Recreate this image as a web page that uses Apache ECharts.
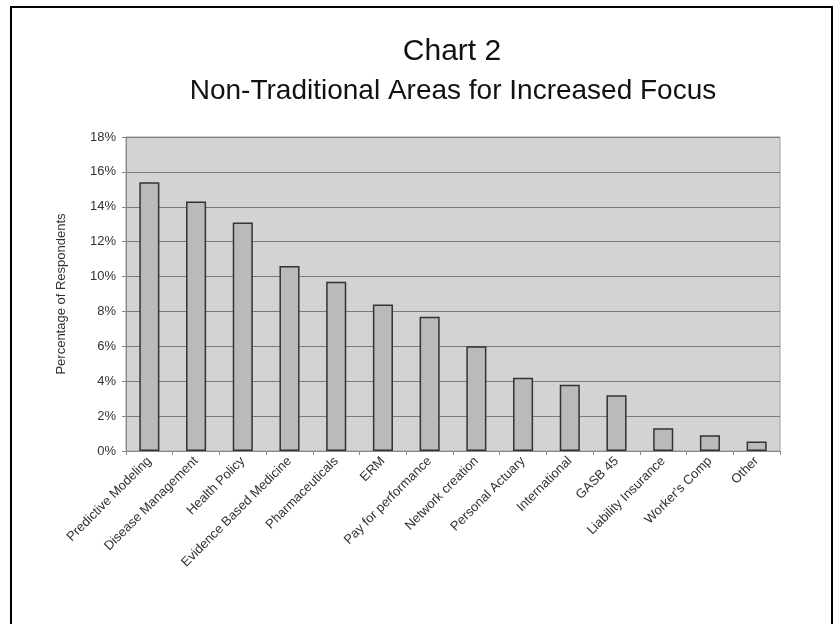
<!DOCTYPE html>
<html>
<head>
<meta charset="utf-8">
<script src="https://cdn.jsdelivr.net/npm/echarts@6/dist/echarts.min.js"></script>
<style>
html, body { margin: 0; padding: 0; background: #fff; }
#main { width: 835px; height: 624px; }
</style>
</head>
<body>
<div id="main"></div>
<script>
var categories = ['Predictive Modeling', 'Disease Management', 'Health Policy', 'Evidence Based Medicine',
	'Pharmaceuticals', 'ERM', 'Pay for performance', 'Network creation', 'Personal Actuary',
	'International', 'GASB 45', 'Liability Insurance', "Worker's Comp", 'Other'];
var percents = [15.4, 14.3, 13.1, 10.6, 9.7, 8.4, 7.7, 6.0, 4.2, 3.8, 3.2, 1.3, 0.9, 0.55];
var yTicks = [0, 2, 4, 6, 8, 10, 12, 14, 16, 18];

var chart = echarts.init(document.getElementById('main'));

var option = {
	backgroundColor: '#fff',
	animation: false,
	title: [
		{
			text: 'Chart 2',
			left: 447, top: 32, textAlign: 'center',
			textStyle: {fontFamily: 'Liberation Sans', fontSize: 30, fontWeight: 'normal', color: '#111'}
		},
		{
			text: 'Non-Traditional Areas for Increased Focus',
			left: 448, top: 72, textAlign: 'center',
			textStyle: {fontFamily: 'Liberation Sans', fontSize: 28, fontWeight: 'normal', color: '#111'}
		}
	],
	graphic: [{
		type: 'polyline',
		shape: {points: [[11, 630], [11, 7], [832, 7], [832, 630]]},
		style: {stroke: '#000', lineWidth: 2, fill: null}
	}],
	grid: {
		left: 126, right: 55, top: 137, bottom: 173,
		show: true, backgroundColor: '#d3d3d3', borderColor: '#a0a0a0', borderWidth: 1
	},
	xAxis: {
		type: 'category',
		data: categories,
		axisLine: {lineStyle: {color: '#888'}},
		axisTick: {show: true, length: 4, lineStyle: {color: '#888'}},
		axisLabel: {
			rotate: 45, interval: 0, margin: 8,
			fontFamily: 'Liberation Sans', fontSize: 13, color: '#333'
		}
	},
	yAxis: {
		type: 'value',
		min: 0, max: 18, interval: 2,
		name: 'Percentage of Respondents',
		nameLocation: 'middle', nameGap: 58,
		nameTextStyle: {fontFamily: 'Liberation Sans', fontSize: 13, color: '#333'},
		axisLine: {show: true, lineStyle: {color: '#888'}},
		axisTick: {show: true, length: 4, lineStyle: {color: '#888'}},
		splitLine: {lineStyle: {color: '#7a7a7a', width: 1}},
		axisLabel: {
			fontFamily: 'Liberation Sans', fontSize: 13, color: '#333', margin: 10,
			customValues: yTicks,
			formatter: '{value}%'
		}
	},
	series: [{
		type: 'bar',
		data: percents,
		barWidth: '43%',
		itemStyle: {color: '#bababa', borderColor: '#333', borderWidth: 1.5}
	}]
};

chart.setOption(option);
</script>
</body>
</html>
